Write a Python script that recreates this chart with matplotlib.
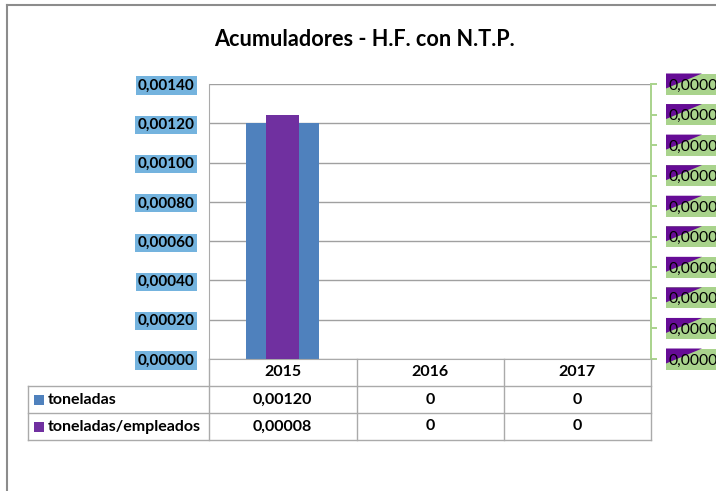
import numpy as np
import matplotlib
matplotlib.use("Agg")
import matplotlib.pyplot as plt
from matplotlib.lines import Line2D
from matplotlib.patches import Rectangle, Polygon

# data
years = ["2015", "2016", "2017"]
toneladas = [0.00120, 0, 0]
ton_empleados = [0.00008, 0, 0]
left_ticks = [0, 0.0002, 0.0004, 0.0006, 0.0008, 0.0010, 0.0012, 0.0014]
right_ticks = [0, 0.00001, 0.00002, 0.00003, 0.00004, 0.00005,
               0.00006, 0.00007, 0.00008, 0.00009]
series_names = ["toneladas", "toneladas/empleados"]

BLUE = "#4F81BD"
PURPLE = "#7030A0"
LBL_BLUE = "#74B3DE"
LBL_GREEN = "#A9D38C"
LBL_PURPLE = "#660C96"
GRID = "#A0A0A0"
LINE = "#AAAAAA"

plt.rcParams["font.family"] = ["Lato", "DejaVu Sans"]

W, H = 716, 491


def fx(x):
    return x / W


def fy(y):
    return 1 - y / H


def fmt(v):
    return "0" if v == 0 else f"{v:.5f}".replace(".", ",")


def tick_fmt(v):
    return f"{v:.5f}".replace(".", ",")


fig = plt.figure(figsize=(W / 100, H / 100), dpi=100)

ax = fig.add_axes([fx(209), fy(359), fx(651) - fx(209), fy(84) - fy(359)])
ax2 = ax.twinx()

x = np.arange(len(years))
ax.bar(x, toneladas, width=0.5, color=BLUE, zorder=2)
ax2.bar(x, ton_empleados, width=0.22, color=PURPLE, zorder=2)

for a in (ax, ax2):
    a.set_xlim(-0.5, len(years) - 0.5)
ax.set_ylim(0, left_ticks[-1])
ax2.set_ylim(0, right_ticks[-1])

ax.set_axisbelow(True)
ax.yaxis.grid(True, color=GRID, lw=1)
ax.set_yticks(left_ticks)
ax.set_yticklabels([tick_fmt(v) for v in left_ticks], fontweight="bold",
                   fontsize=11)
for lbl in ax.get_yticklabels():
    lbl.set_bbox(dict(facecolor=LBL_BLUE, edgecolor="none", pad=1.5))
ax.tick_params(axis="y", length=0, pad=10.5)
ax.tick_params(axis="x", bottom=False, labelbottom=False)

for s in ("top", "right"):
    ax.spines[s].set_visible(False)
ax.spines["left"].set_color(LINE)
ax.spines["bottom"].set_color(LINE)
for s in ("top", "left", "bottom"):
    ax2.spines[s].set_visible(False)
ax2.spines["right"].set_color(LBL_GREEN)
ax2.spines["right"].set_linewidth(1.4)

ax2.set_yticks(right_ticks)
ax2.set_yticklabels([tick_fmt(v) for v in right_ticks], fontsize=11.3)
ax2.tick_params(axis="y", length=4, width=1.4, color=LBL_GREEN, pad=8.5)
ax2.tick_params(axis="x", bottom=False, labelbottom=False)

# label backgrounds for the secondary axis (green with purple corner)
fig.canvas.draw()
for v in right_ticks:
    yc = ax2.transData.transform((0, v))[1]
    x0 = 666
    top = yc + 10.5
    fig.add_artist(Rectangle((x0 / W, (yc - 10.5) / H), (W - x0) / W, 21 / H,
                             transform=fig.transFigure, facecolor=LBL_GREEN,
                             edgecolor="none", zorder=-2))
    fig.add_artist(Polygon([(x0 / W, top / H), ((x0 + 36) / W, top / H),
                            (x0 / W, (top - 15) / H)],
                           transform=fig.transFigure, facecolor=LBL_PURPLE,
                           edgecolor="none", zorder=-1))

# title
fig.text(fx(364), fy(40), "Acumuladores - H.F. con N.T.P.", ha="center",
         va="center", fontsize=15.6, fontweight="bold")

# outer border
fig.add_artist(Line2D([fx(7), 1], [fy(5), fy(5)], color="#8C8C8C", lw=1.5))
fig.add_artist(Line2D([fx(7), fx(7)], [fy(5), 0], color="#8C8C8C", lw=1.5))

# data table under the plot
col_edges = [209, 357, 504, 651]
row_edges = [359, 386, 413, 440]
for yy in row_edges[1:]:
    fig.add_artist(Line2D([fx(28), fx(651)], [fy(yy), fy(yy)], color=LINE, lw=1))
for xx in col_edges:
    fig.add_artist(Line2D([fx(xx), fx(xx)], [fy(359), fy(440)], color=LINE, lw=1))
fig.add_artist(Line2D([fx(28), fx(28)], [fy(386), fy(440)], color=LINE, lw=1))

TFS = 11.5
for i, yr in enumerate(years):
    cx = ax.transData.transform((x[i], 0))[0] / W
    fig.text(cx, fy(372.5), yr, ha="center", va="center", fontsize=TFS,
             fontweight="bold")
    for r, vals in enumerate((toneladas, ton_empleados)):
        cy = fy((row_edges[r + 1] + row_edges[r + 2]) / 2)
        fig.text(cx, cy, fmt(vals[i]), ha="center", va="center", fontsize=TFS,
                 fontweight="bold")

for r, (name, col) in enumerate(zip(series_names, (BLUE, PURPLE))):
    cyp = (row_edges[r + 1] + row_edges[r + 2]) / 2
    fig.add_artist(Rectangle((fx(34), fy(cyp + 5)), 10 / W, 10 / H,
                             transform=fig.transFigure, facecolor=col,
                             edgecolor="none"))
    fig.text(fx(48), fy(cyp), name, ha="left", va="center", fontsize=TFS,
             fontweight="bold")

fig.savefig("out.png", dpi=100)
